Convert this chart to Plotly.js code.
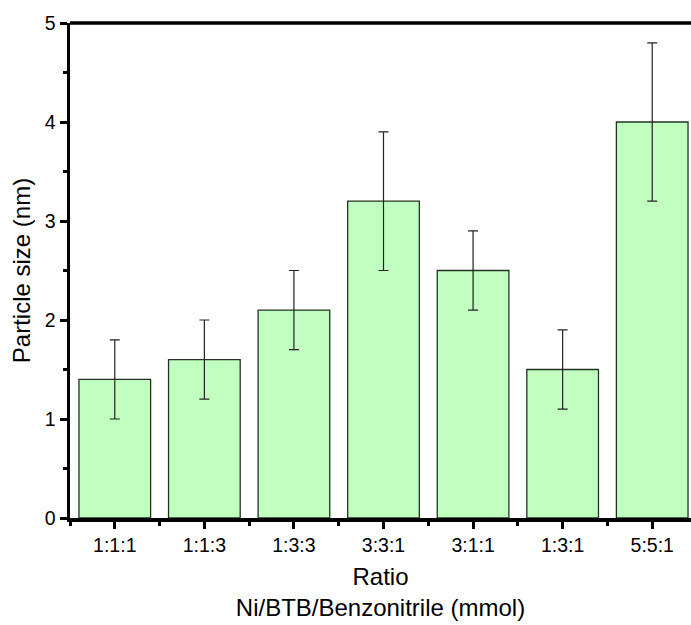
<!DOCTYPE html>
<html><head><meta charset="utf-8">
<script src="https://cdn.plot.ly/plotly-3.0.1.min.js"></script>
<style>html,body{margin:0;padding:0;background:#fff}</style>
</head><body><div id="chart" style="width:691px;height:625px"></div>
<script>
const categories = ["1:1:1","1:1:3","1:3:3","3:3:1","3:1:1","1:3:1","5:5:1"];
const sizes = [1.4, 1.6, 2.1, 3.2, 2.5, 1.5, 4.0];
const errors = [0.4, 0.4, 0.4, 0.7, 0.4, 0.4, 0.8];
const yTicks = [0,1,2,3,4,5];

const xIdx = categories.map((c,i)=>i);

const trace = {
  type:'bar', x:xIdx, y:sizes, width:0.8,
  marker:{color:'#c0ffc0', line:{color:'#223322', width:1.3}},
  error_y:{type:'data', array:errors, visible:true, color:'#222', thickness:1.2, width:5},
  hoverinfo:'skip', cliponaxis:false
};
const layout = {
  width:691, height:625,
  margin:{l:70, r:0, t:23, b:106.5},
  paper_bgcolor:'#fff', plot_bgcolor:'#fff',
  showlegend:false,
  font:{family:'Liberation Sans, Arial, sans-serif', color:'#000'},
  xaxis:{
    range:[-0.5, 6.433], tickmode:'array', tickvals:xIdx, ticktext:categories,
    showline:true, linecolor:'#000', linewidth:3.5, zeroline:false, showgrid:false,
    ticks:'outside', ticklen:7, tickwidth:3, tickcolor:'#000',
    tickfont:{size:19.5},
    minor:{tick0:0.5, dtick:1, ticks:'outside', ticklen:4, tickwidth:3, tickcolor:'#000', showgrid:false},
    title:{text:'Ratio<br>Ni/BTB/Benzonitrile (mmol)', font:{size:24}, standoff:14}
  },
  yaxis:{
    range:[0,5], tickmode:'array', tickvals:yTicks,
    showline:true, linecolor:'#000', linewidth:3.5, zeroline:false, showgrid:false,
    ticks:'outside', ticklen:7, tickwidth:3, tickcolor:'#000',
    tickfont:{size:19.5},
    minor:{tick0:0, dtick:0.5, ticks:'outside', ticklen:4, tickwidth:3, tickcolor:'#000', showgrid:false},
    title:{text:'Particle size (nm)', font:{size:24}, standoff:8}
  },
  shapes:[{type:'line', xref:'paper', yref:'paper', x0:0, x1:1, y0:1, y1:1, line:{color:'#000', width:3.5}}]
};
Plotly.newPlot('chart',[trace],layout,{displayModeBar:false, staticPlot:true});
</script></body></html>
